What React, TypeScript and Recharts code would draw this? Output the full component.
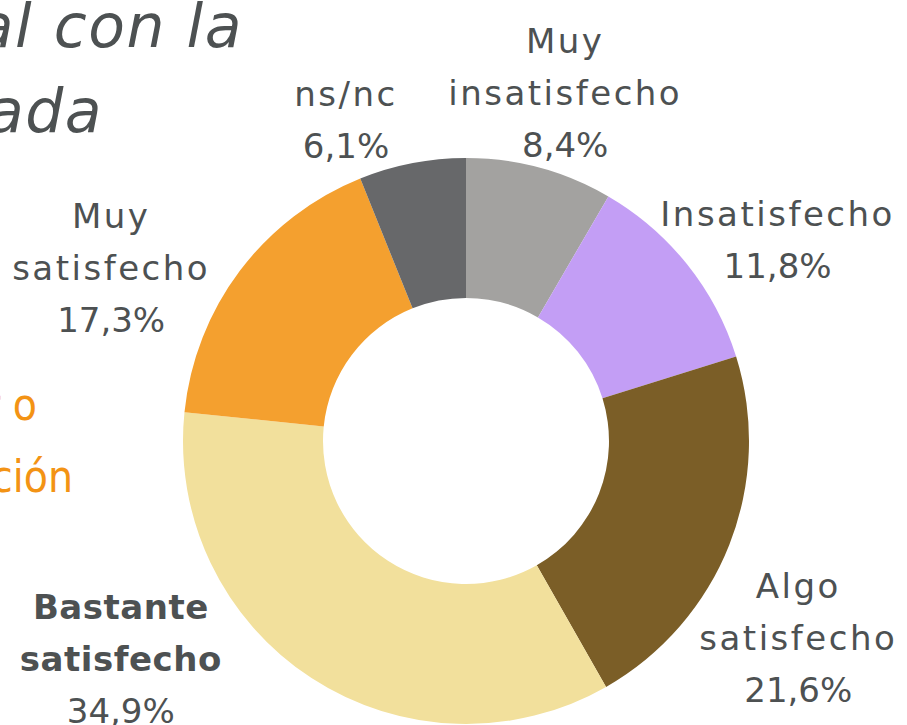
import React from "react";
import { PieChart, Pie, Cell } from "recharts";

const categories = [
  "Muy insatisfecho",
  "Insatisfecho",
  "Algo satisfecho",
  "Bastante satisfecho",
  "Muy satisfecho",
  "ns/nc",
];
const values = [8.4, 11.8, 21.6, 34.9, 17.3, 6.1];
const labelLines = [
  ["Muy", "insatisfecho"],
  ["Insatisfecho"],
  ["Algo", "satisfecho"],
  ["Bastante", "satisfecho"],
  ["Muy", "satisfecho"],
  ["ns/nc"],
];
const colors = ["#a3a2a0", "#c39ef5", "#7b5e27", "#f2e09c", "#f4a02f", "#67686a"];

// label placement tweaks (degrees off the slice middle, distance from centre)
const labelAngleNudge = [-0.8, -5.7, -9.1, -24.7, 10.9, 9.5];
const labelRadius = [362, 371, 386, 408, 395, 343];
const boldLabel = [false, false, false, true, false, false];

const data = categories.map((name, i) => ({ name, value: values[i] }));

const RADIAN = Math.PI / 180;
const TEXT = "#4d5152";
const FONT = "'DejaVu Sans', sans-serif";
const LINE_H = 52;
const FS = 34;

const renderLabel = (props: any) => {
  const { cx, cy, midAngle, index } = props;
  const a = (midAngle + labelAngleNudge[index]) * RADIAN;
  const x = cx + labelRadius[index] * Math.cos(-a);
  const y = cy + labelRadius[index] * Math.sin(-a);
  const lines = [...labelLines[index], values[index].toFixed(1).replace(".", ",") + "%"];
  const top = y - ((lines.length - 1) * LINE_H) / 2;
  return (
    <g key={`lbl-${index}`}>
      {lines.map((t, j) => {
        const isPct = j === lines.length - 1;
        const bold = boldLabel[index] && !isPct;
        return (
          <text
            key={j}
            x={x}
            y={top + j * LINE_H + FS * 0.36}
            textAnchor="middle"
            fill={TEXT}
            fontFamily={FONT}
            fontSize={FS}
            fontWeight={bold ? 700 : 400}
            letterSpacing={isPct ? 0 : bold ? 0.5 : 2.5}
          >
            {t}
          </text>
        );
      })}
    </g>
  );
};

export default function App() {
  return (
    <div style={{ position: "absolute", left: 0, top: 0, width: 907, height: 725, background: "#fff", overflow: "hidden" }}>
      <PieChart width={907} height={725} margin={{ top: 0, right: 0, bottom: 0, left: 0 }}>
        <Pie
          data={data}
          dataKey="value"
          nameKey="name"
          cx={466}
          cy={441}
          innerRadius={143}
          outerRadius={283}
          startAngle={90}
          endAngle={-270}
          stroke="none"
          label={renderLabel}
          labelLine={false}
          isAnimationActive={false}
        >
          {data.map((_, i) => (
            <Cell key={`cell-${i}`} fill={colors[i]} />
          ))}
        </Pie>
      </PieChart>
      <svg width={907} height={725} style={{ position: "absolute", left: 0, top: 0, pointerEvents: "none" }}>
        <g fontFamily={FONT} fontStyle="italic" fontSize={60} fill={TEXT} letterSpacing={1.5} textAnchor="end">
          <text x={243} y={47}>al con la</text>
          <text x={103} y={132}>ada</text>
        </g>
        <g fontFamily="'DejaVu Sans Condensed', 'Liberation Sans Narrow', sans-serif" fontStretch="condensed" fontSize={44} fill="#f39314" textAnchor="end">
          <text x={37} y={420}>r o</text>
          <text x={73} y={492}>ción</text>
        </g>
      </svg>
    </div>
  );
}
